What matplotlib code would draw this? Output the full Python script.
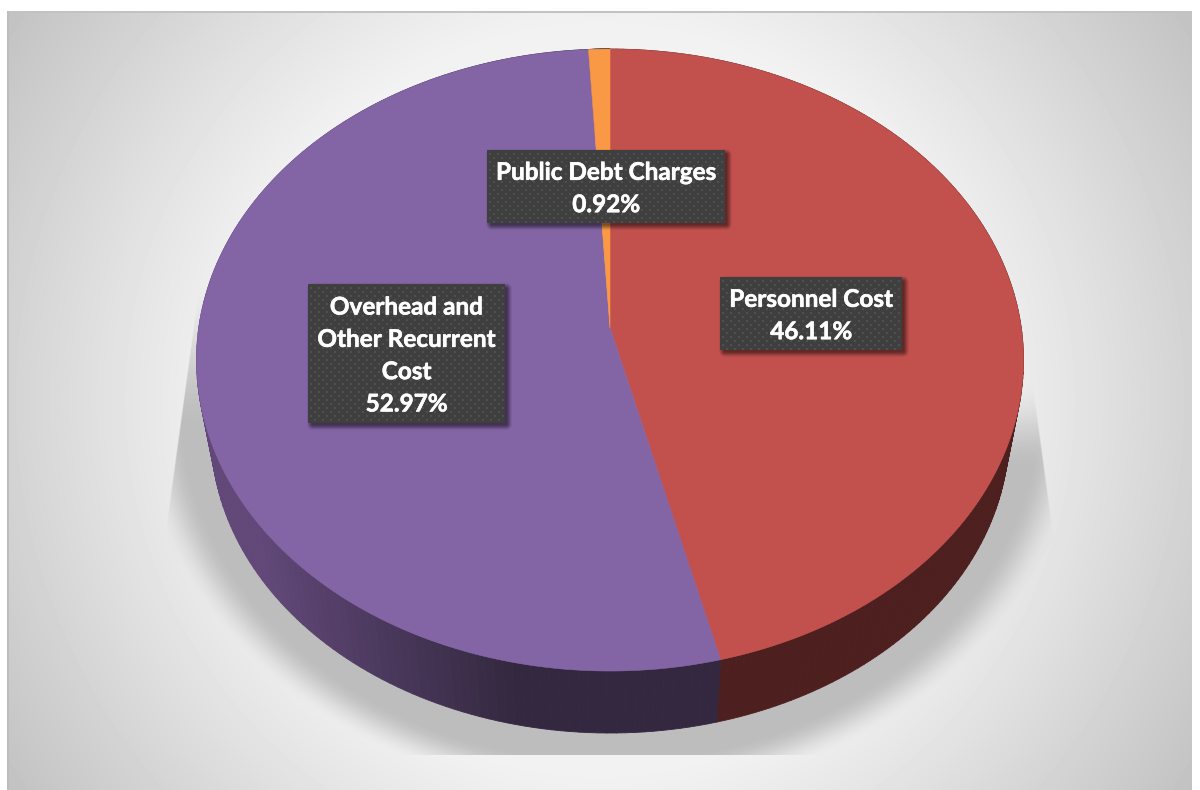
import numpy as np
import matplotlib
matplotlib.use("Agg")
import matplotlib.pyplot as plt
import matplotlib.patheffects as pe
from matplotlib.collections import PolyCollection
from matplotlib.patches import Polygon

WIDTH = 1200
HEIGHT = 790

categories = ["Personnel Cost", "Overhead and\nOther Recurrent\nCost", "Public Debt Charges"]
shares = [46.11, 52.97, 0.92]
top_colors = ["#c2514e", "#8364a5", "#f99845"]

# label box for each slice: left, top, right, bottom
label_boxes = [(720, 277, 902, 350), (308, 284, 505, 423), (487, 150, 725, 223)]

# projected disc geometry
CX, CY = 610, 328
SX, SY = 411.3, 307.7
TILT = 0.103
BASE_SCALE = 0.965
BASE_DROP = 74

YY, XX = np.mgrid[0:HEIGHT, 0:WIDTH] + 0.5


def project(t, scale=1.0, drop=0.0):
    # t is the clockwise angle from twelve o'clock
    u, v = np.sin(t), np.cos(t)
    w = 1 + TILT * v
    return CX + scale * SX * u / w, CY + drop - scale * SY * v / w


def smooth(a, b, x):
    s = np.clip((x - a) / (b - a), 0, 1)
    return s * s * (3 - 2 * s)


def background():
    d = np.hypot(XX - 600, YY - 400)
    return np.interp(d, [0, 380, 490, 592, 707], [250, 241, 226, 211, 194]) / 255


def floor_shadow():
    # soft shadow that the pie drops on the floor
    r = np.hypot((XX - 610) / 470, (YY - 400) / 395)
    fade = 1 - smooth(0.91, 1.01, r)
    left = 200 - (YY - 283) * 32 / 234
    right = 1028 + (YY - 350) * 24 / 177
    edge = smooth(-1, 1, XX - left) * smooth(-1, 1, right - XX)
    rise = np.where(XX < 610, smooth(280, 430, YY), smooth(380, 470, YY))
    alpha = fade * edge * rise
    alpha[YY > 755] = 0
    return alpha


def box_shadow(box, off=3, blur=7):
    x0, y0, x1, y1 = box
    dx = np.maximum(x0 + off - XX, XX - x1 - off)
    dy = np.maximum(y0 + off - YY, YY - y1 - off)
    d = np.hypot(np.maximum(dx + 2, 0), np.maximum(dy + 2, 0))
    img = np.zeros((HEIGHT, WIDTH, 4))
    img[..., 3] = 0.5 * (1 - smooth(0, blur, d))
    return img


def dotted_fill(box):
    # dark fill with a staggered dot texture
    x0, y0, x1, y1 = box
    w, h = x1 - x0, y1 - y0
    px = np.full((h, w, 3), 0x3f / 255)
    for row in range(3, h, 4):
        shift = 0 if (row // 4) % 2 == 0 else 4
        cols = np.arange(2 + shift, w - 1, 8)
        px[row:row + 2, cols] = 0x4f / 255
        px[row:row + 2, cols + 1] = 0x4f / 255
    return px


fig = plt.figure(figsize=(WIDTH / 100, HEIGHT / 100), dpi=100, facecolor="white")
ax = fig.add_axes([0, 0, 1, 1])
ax.set_axis_off()

# panel with radial gradient
bg = background()
shadow = floor_shadow()
g = bg * (1 - shadow) + 0.74 * shadow
panel = np.ones_like(g)
inside = (XX > 8) & (XX < 1192) & (YY > 12)
panel[inside] = g[inside]
panel[(YY > 11) & (YY < 13) & (XX > 7) & (XX < 1192)] = 0.76
panel[(XX > 7) & (XX < 9) & (YY > 11)] = 0.74
ax.imshow(panel, cmap="gray", vmin=0, vmax=1, extent=(0, WIDTH, HEIGHT, 0),
          interpolation="nearest", zorder=0)

# slice limits from the shares
edges = np.cumsum([0] + shares) / np.sum(shares) * 2 * np.pi

# outer wall, dark side of every slice
side_quads = []
side_colors = []
purple_dark = np.array(matplotlib.colors.to_rgb("#33283f"))
purple_light = np.array(matplotlib.colors.to_rgb("#614878"))
red_side = np.array(matplotlib.colors.to_rgb("#4d1f1f"))
for i in range(len(shares)):
    ts = np.linspace(edges[i], edges[i + 1], 160)
    for a, b in zip(ts[:-1], ts[1:]):
        xa, ya = project(a)
        xb, yb = project(b)
        xc, yc = project(b, BASE_SCALE, BASE_DROP)
        xd, yd = project(a, BASE_SCALE, BASE_DROP)
        side_quads.append([(xa, ya), (xb, yb), (xc, yc), (xd, yd)])
        if i == 0:
            side_colors.append(red_side)
        else:
            mix = np.clip((xa - 260) / 260, 0, 1)
            side_colors.append(purple_light * (1 - mix) + purple_dark * mix)
ax.add_collection(PolyCollection(side_quads, facecolors=side_colors, edgecolors=side_colors,
                                 linewidths=0.6, zorder=1))

# top surface
for i in range(len(shares)):
    ts = np.linspace(edges[i], edges[i + 1], 300)
    xs, ys = project(ts)
    pts = np.column_stack([np.r_[CX, xs], np.r_[CY, ys]])
    ax.add_patch(Polygon(pts, closed=True, facecolor=top_colors[i], edgecolor=top_colors[i],
                         linewidth=0.4, zorder=2))

# data labels
for name, share, box in zip(categories, shares, label_boxes):
    x0, y0, x1, y1 = box
    ax.imshow(box_shadow(box), extent=(0, WIDTH, HEIGHT, 0), interpolation="bilinear", zorder=3)
    ax.imshow(dotted_fill(box), extent=(x0, x1, y1, y0), interpolation="bilinear", zorder=4)
    ax.text((x0 + x1) / 2, (y0 + y1) / 2 + 2, f"{name}\n{share:.2f}%", color="white",
            family="Lato", weight="bold", fontsize=17.5, ha="center", va="center",
            linespacing=1.49, zorder=5,
            path_effects=[pe.withStroke(linewidth=0.4, foreground="white")])

ax.set_xlim(0, WIDTH)
ax.set_ylim(HEIGHT, 0)
ax.set_aspect("auto")
fig.savefig("out.png", dpi=100)
